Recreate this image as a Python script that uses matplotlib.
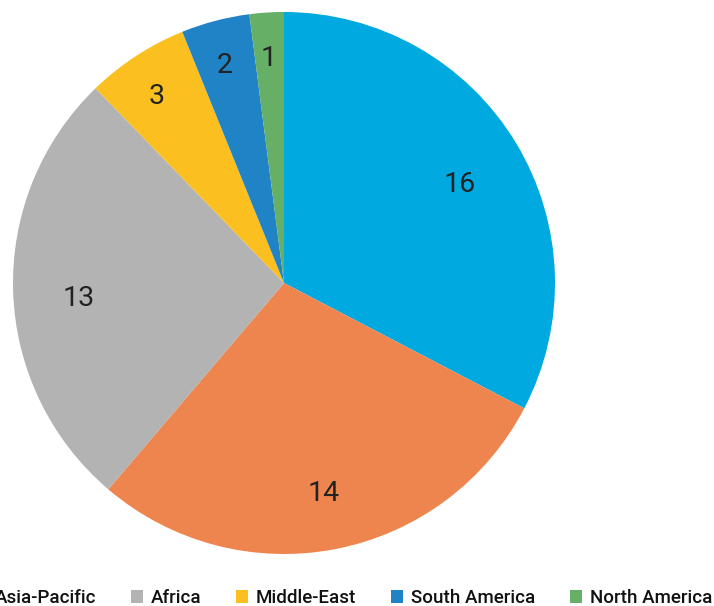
import numpy as np
import matplotlib
matplotlib.use("Agg")
import matplotlib.pyplot as plt
from matplotlib.patches import Patch

plt.rcParams['font.family'] = ['Roboto', 'DejaVu Sans']

regions = ['Europe', 'Asia-Pacific', 'Africa', 'Middle-East', 'South America', 'North America']
counts = [16, 14, 13, 3, 2, 1]
colors = ['#00A9E0', '#EE854E', '#B2B3B2', '#FBBF1F', '#1F83C5', '#66AF67']

W, H = 714, 606
fig = plt.figure(figsize=(W / 100, H / 100), dpi=100)
cx, cy, r = 284, 283, 271
ax = fig.add_axes([(cx - r) / W, (H - cy - r) / H, 2 * r / W, 2 * r / H])

wedges, _ = ax.pie(counts, colors=colors, startangle=90, counterclock=False,
                   radius=1.0, wedgeprops=dict(linewidth=0))
ax.set_xlim(-1, 1)
ax.set_ylim(-1, 1)
ax.axis('off')

# value labels, small slices sit a bit further out
for w, v in zip(wedges, counts):
    mid = (w.theta1 + w.theta2) / 2
    d = 0.86 if v < 5 else 0.76
    ang = np.deg2rad(mid)
    ax.text(d * np.cos(ang), d * np.sin(ang) - 0.02, str(v), ha='center', va='center_baseline',
            fontsize=20.5, color='#222222')

handles = [Patch(facecolor=c, edgecolor='none') for c in colors]
fig.legend(handles, regions, loc='center right', bbox_to_anchor=(1.0 - 2 / W, 1 - 598 / H),
           ncol=6, frameon=False, prop=dict(size=13.5, weight='medium'),
           handlelength=0.64, handleheight=0.64, handletextpad=0.42,
           columnspacing=1.85, borderpad=0, borderaxespad=0, labelcolor='#111111')

fig.savefig('out.png', dpi=100)
